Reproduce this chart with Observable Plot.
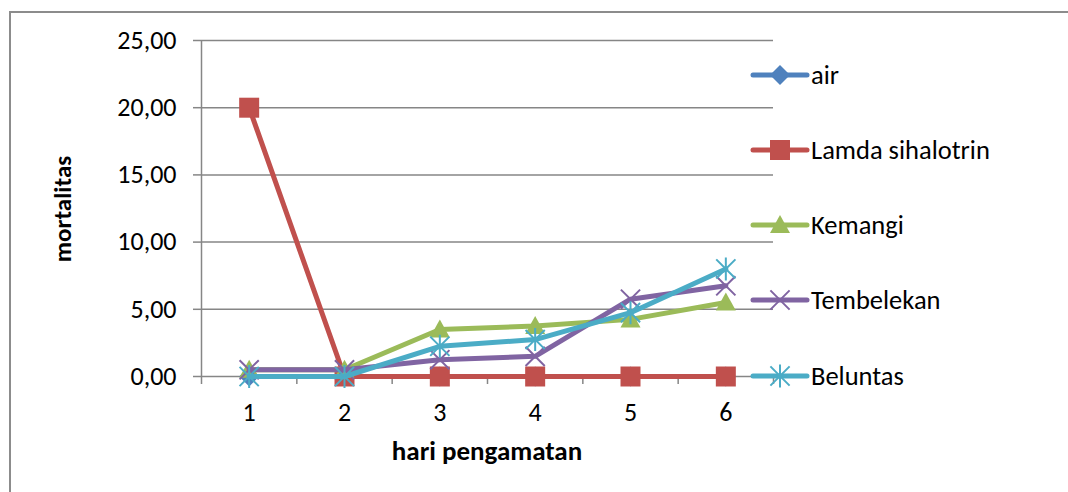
<!DOCTYPE html>
<html><head><meta charset="utf-8">
<script src="https://cdn.jsdelivr.net/npm/d3@7"></script>
<script src="https://cdn.jsdelivr.net/npm/@observablehq/plot@0.6"></script>
<style>
body{margin:0;background:#fff;}
#wrap{position:relative;width:1068px;height:492px;overflow:hidden;font-family:Carlito,Lato,sans-serif;color:#000}
#frame{position:absolute;left:9px;top:11px;width:1200px;height:600px;border:2px solid #8c8c8c;box-sizing:border-box}
#chart{position:absolute;left:0;top:0}
#chart svg g[aria-label$="axis tick"]{stroke:#868686;stroke-width:1.5}
.title{position:absolute;font-weight:bold;font-size:25px;white-space:nowrap;line-height:1}
.leg{position:absolute;height:30px;display:flex;align-items:center;font-size:26.5px;white-space:nowrap}
.leg svg{margin-right:1px}
</style></head>
<body>
<div id="wrap">
  <div id="frame"></div>
  <div id="chart"></div>
  <div class="title" id="ytitle" style="left:62px;top:209px;transform:translate(-50%,-50%) rotate(-90deg)">mortalitas</div>
  <div class="title" id="xtitle" style="left:487px;top:450px;font-size:27px;transform:translate(-50%,-50%)">hari pengamatan</div>
  <div id="legend"></div>
</div>
<script>
const days = [1, 2, 3, 4, 5, 6];
const seriesNames = ["air", "Lamda sihalotrin", "Kemangi", "Tembelekan", "Beluntas"];
const air = [0, 0, 0, 0, 0, 0];
const lamda = [20, 0, 0, 0, 0, 0];
const kemangi = [0.5, 0.5, 3.5, 3.75, 4.25, 5.5];
const tembelekan = [0.5, 0.5, 1.25, 1.5, 5.75, 6.75];
const beluntas = [0, 0, 2.25, 2.75, 4.75, 8.0];
const yTicks = [0, 5, 10, 15, 20, 25];
const colors = ["#4F81BD", "#C0504D", "#9BBB59", "#8064A2", "#4BACC6"];

const rad = s => Math.sqrt(s / Math.PI);
const symDiamond = {draw(c, s){const r = rad(s); c.moveTo(0,-r); c.lineTo(r,0); c.lineTo(0,r); c.lineTo(-r,0); c.closePath();}};
const symSquare = {draw(c, s){const r = rad(s); c.rect(-r,-r,2*r,2*r);}};
const symTriangle = {draw(c, s){const r = rad(s); c.moveTo(0,-r); c.lineTo(r,r*0.8); c.lineTo(-r,r*0.8); c.closePath();}};
const symTimes = {draw(c, s){const r = rad(s)*0.8; c.moveTo(-r,-r); c.lineTo(r,r); c.moveTo(r,-r); c.lineTo(-r,r);}};
const symStar = {draw(c, s){const r = rad(s)*0.8; c.moveTo(-r,-r); c.lineTo(r,r); c.moveTo(r,-r); c.lineTo(-r,r); c.moveTo(0,-r*1.2); c.lineTo(0,r*1.2);}};

const series = [
  {name: seriesNames[0], values: air, color: colors[0], symbol: symDiamond, r: 10, filled: true},
  {name: seriesNames[1], values: lamda, color: colors[1], symbol: symSquare, r: 10, filled: true},
  {name: seriesNames[2], values: kemangi, color: colors[2], symbol: symTriangle, r: 10, filled: true},
  {name: seriesNames[3], values: tembelekan, color: colors[3], symbol: symTimes, r: 12, filled: false},
  {name: seriesNames[4], values: beluntas, color: colors[4], symbol: symStar, r: 12, filled: false}
];

const rows = [];
series.forEach(s => days.forEach((d, j) => rows.push({series: s.name, day: d, value: s.values[j]})));
const bounds = [days[0] - 0.5, ...days.map(d => d + 0.5)];
const fmt = d => d3.format(".2f")(d).replace(".", ",");

const marks = [
  Plot.ruleY(yTicks, {stroke: "#868686", strokeWidth: 1.5}),
  Plot.ruleX([bounds[0]], {stroke: "#868686", strokeWidth: 1.5}),
  Plot.text(days, {x: d => d, y: 0, dy: 36, text: d => String(d), fontSize: 26, fill: "#000"})
];
series.forEach(s => {
  const data = rows.filter(r => r.series === s.name);
  marks.push(Plot.line(data, {x: "day", y: "value", stroke: s.color, strokeWidth: 5, strokeLinejoin: "round", strokeLinecap: "round"}));
  marks.push(Plot.dot(data, {x: "day", y: "value", symbol: s.symbol, r: s.r,
    fill: s.filled ? s.color : "none", stroke: s.filled ? "none" : s.color, strokeWidth: 2}));
});

const chart = Plot.plot({
  width: 1068, height: 492,
  marginLeft: 201, marginRight: 295, marginTop: 40, marginBottom: 116,
  style: {fontFamily: "Carlito, Lato, sans-serif", fontSize: "26px", color: "#000", background: "transparent", overflow: "visible"},
  x: {type: "linear", domain: [bounds[0], bounds[bounds.length - 1]], ticks: bounds, tickSize: 8, tickFormat: () => "", label: null},
  y: {domain: [0, 25], ticks: yTicks, tickSize: 8, tickPadding: 17, tickFormat: fmt, label: null},
  marks
});
document.getElementById("chart").appendChild(chart);

// legend
const legendY = [75, 150, 225, 300, 376];
const legend = document.getElementById("legend");
series.forEach((s, i) => {
  const div = document.createElement("div");
  div.className = "leg";
  div.style.left = "750px";
  div.style.top = (legendY[i] - 15) + "px";
  const path = d3.symbol(s.symbol, Math.PI * s.r * s.r)();
  div.innerHTML = `<svg width="60" height="30" viewBox="0 0 60 30">
    <line x1="3" y1="15" x2="57" y2="15" stroke="${s.color}" stroke-width="5" stroke-linecap="round"/>
    <path transform="translate(30,15)" d="${path}" fill="${s.filled ? s.color : "none"}" stroke="${s.filled ? "none" : s.color}" stroke-width="2"/>
  </svg><span>${s.name}</span>`;
  legend.appendChild(div);
});
</script>
</body></html>
